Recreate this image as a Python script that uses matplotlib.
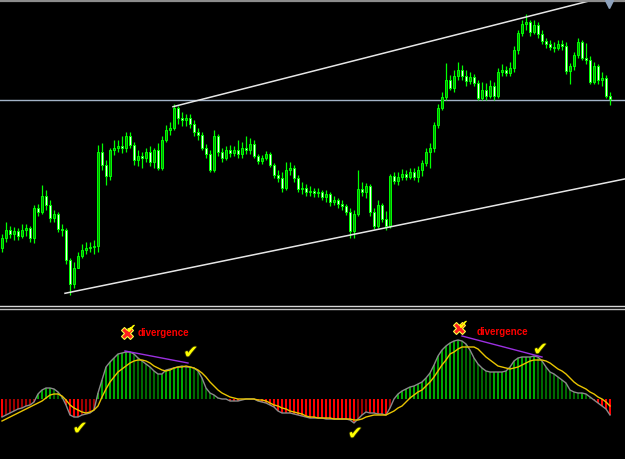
import matplotlib
matplotlib.use("Agg")
import matplotlib.pyplot as plt
from matplotlib.lines import Line2D
import matplotlib.patheffects as pe

# ---------------------------------------------------------------
# Price data (price points), one candle per bar
# ---------------------------------------------------------------
first_open = 52
closes = [62, 70, 66, 69, 64, 70, 72, 62, 92, 88,
          104, 95, 82, 86, 71, 70, 40, 16, 32, 44,
          50, 52, 53, 54, 148, 135, 124, 150, 152, 154,
          152, 164, 155, 140, 144, 142, 148, 138, 150, 132,
          160, 170, 172, 192, 182, 180, 182, 176, 168, 165,
          152, 146, 130, 164, 148, 142, 150, 147, 150, 146,
          152, 150, 156, 144, 139, 142, 146, 135, 125, 122,
          112, 130, 132, 122, 111, 112, 108, 109, 107, 108,
          103, 106, 98, 100, 96, 94, 88, 69, 86, 111,
          108, 114, 88, 74, 95, 81, 74, 124, 119, 123,
          126, 123, 128, 123, 130, 137, 148, 152, 175, 192,
          203, 220, 212, 224, 230, 224, 219, 223, 217, 202,
          210, 204, 214, 204, 228, 230, 227, 232, 250, 267,
          276, 278, 268, 275, 266, 259, 256, 253, 252, 256,
          254, 229, 234, 245, 258, 242, 240, 218, 234, 220,
          222, 204, 201]
highs = [66, 78, 74, 73, 72, 76, 76, 74, 95, 96,
         115, 110, 100, 90, 88, 76, 72, 42, 38, 48,
         56, 58, 58, 60, 155, 157, 140, 152, 160, 160,
         164, 168, 168, 158, 150, 148, 152, 154, 152, 157,
         164, 175, 178, 196, 194, 188, 186, 186, 180, 172,
         168, 156, 150, 170, 166, 152, 154, 155, 154, 160,
         158, 164, 162, 160, 146, 145, 149, 148, 137, 130,
         128, 138, 138, 135, 125, 118, 116, 114, 112, 112,
         110, 110, 108, 104, 102, 100, 96, 92, 90, 130,
         118, 117, 116, 92, 100, 97, 89, 126, 128, 128,
         131, 130, 132, 132, 134, 140, 152, 157, 178, 196,
         208, 237, 225, 230, 238, 235, 230, 228, 226, 220,
         218, 217, 220, 218, 232, 236, 234, 238, 254, 270,
         280, 286, 280, 280, 278, 270, 262, 260, 258, 260,
         260, 258, 237, 248, 262, 260, 257, 244, 238, 236,
         228, 225, 208]
lows = [48, 58, 62, 60, 60, 62, 64, 58, 57, 84,
        86, 90, 78, 78, 68, 64, 36, 5, 12, 32,
        42, 46, 48, 46, 48, 130, 115, 120, 145, 148,
        147, 148, 152, 135, 134, 132, 138, 134, 132, 130,
        130, 158, 165, 170, 176, 174, 174, 172, 164, 160,
        150, 142, 128, 128, 144, 138, 140, 143, 144, 142,
        142, 146, 146, 142, 136, 136, 140, 133, 122, 118,
        108, 110, 125, 118, 108, 106, 104, 104, 103, 103,
        100, 98, 94, 95, 92, 90, 85, 62, 62, 84,
        104, 102, 84, 71, 72, 78, 70, 72, 116, 115,
        120, 120, 121, 120, 118, 124, 134, 132, 148, 172,
        190, 200, 210, 208, 220, 220, 214, 216, 214, 200,
        200, 200, 202, 200, 202, 224, 224, 224, 228, 246,
        264, 270, 264, 266, 262, 256, 252, 250, 248, 250,
        250, 226, 216, 230, 242, 240, 236, 216, 216, 216,
        214, 202, 195]
opens = [first_open] + closes[:-1]

# indicator: main line (histogram) and signal line
macd = [-18, -16, -14, -12, -10, -9, -7, -6, -3, 5,
        9, 11, 11, 10, 7, 2, -6, -16, -18, -18,
        -16, -15, -14, -11, 6, 19, 32, 37, 41, 45,
        46, 47, 47, 45, 41, 38, 35, 32, 28, 25,
        25, 29, 30, 31, 32, 33, 32, 32, 31, 28,
        21, 11, 6, 4, 1, 0, 0, -2, -2, -2,
        -1, 0, 0, 0, -2, -3, -4, -6, -8, -12,
        -14, -14, -14, -15, -16, -17, -18, -19, -19, -19,
        -19, -20, -20, -20, -20, -20, -20, -21, -24, -20,
        -16, -13, -14, -14, -15, -15, -16, -9, 0, 5,
        8, 10, 12, 13, 15, 17, 21, 26, 34, 43,
        49, 53, 56, 58, 59, 58, 55, 49, 41, 35,
        31, 28, 27, 27, 27, 27, 28, 32, 38, 41,
        42, 42, 42, 43, 42, 38, 32, 27, 25, 22,
        19, 16, 9, 7, 6, 6, 5, 2, -1, -4,
        -7, -10, -16]
signal = [-22, -20, -18, -16, -14, -12, -10, -8, -6, -4,
          -2, 1, 4, 5, 5, 3, -1, -6, -9, -11,
          -13, -14, -13, -11, -7, 2, 10, 17, 22, 27,
          30, 33, 36, 38, 39, 39, 38, 36, 33, 31,
          29, 28, 29, 31, 32, 32, 33, 32, 31, 29,
          26, 22, 17, 13, 9, 6, 4, 2, 1, 0,
          0, 0, 0, 0, -1, -1, -2, -4, -6, -7,
          -9, -10, -12, -13, -14, -15, -17, -18, -18, -19,
          -19, -19, -19, -20, -20, -20, -20, -20, -21, -21,
          -20, -18, -17, -16, -16, -16, -16, -14, -12, -9,
          -7, -3, 1, 4, 7, 9, 13, 17, 22, 28,
          34, 39, 45, 47, 50, 52, 52, 52, 52, 50,
          46, 42, 39, 36, 33, 32, 31, 30, 31, 32,
          34, 36, 38, 39, 39, 39, 38, 36, 33, 30,
          28, 25, 21, 17, 14, 12, 10, 7, 5, 2,
          0, -3, -7]

# drawn objects: horizontal level and channel anchors (bar index, price)
level = 200
upper_anchor = [(42.75, 193.3), (144.5, 296.7)]
lower_anchor = [(15.75, 6.7), (92.0, 69.0)]

# annotations on the indicator
div_lines = [[(30.75, 48), (46.5, 36)], [(115.0, 63), (135.0, 42)]]
div_text_pos = [(33.8, 66), (118.6, 67)]
cross_pos = [(31.2, 66), (114.3, 71)]
check_pos = [(19.5, -30), (47.2, 46), (88.3, -35), (134.6, 49)]

# ---------------------------------------------------------------
fig = plt.figure(figsize=(6.25, 4.59), dpi=100, facecolor="black")
ax = fig.add_axes([0, 154 / 459, 1, 305 / 459])
ax2 = fig.add_axes([0, 0, 1, 150 / 459])
for a in (ax, ax2):
    a.set_axis_off()
    a.set_xlim(-0.5, 155.75)
ax.set_ylim(-5, 300)
ax2.set_ylim(-60, 90)

x = list(range(len(closes)))

# candles
ax.vlines(x, lows, highs, color="#00ff00", lw=0.9, zorder=2)
bottoms = [min(o, c) for o, c in zip(opens, closes)]
heights = [max(abs(c - o), 0.8) for o, c in zip(opens, closes)]
faces = ["#00a000" if c > o else "#f0fff0" for o, c in zip(opens, closes)]
ax.bar(x, heights, bottom=bottoms, width=0.66, color=faces,
       edgecolor="#00ff00", lw=0.7, zorder=3)

# level line and channel
ax.axhline(level, color="#a3b3c8", lw=1, zorder=1)
for (x0, y0), (x1, y1) in (upper_anchor, lower_anchor):
    slope = (y1 - y0) / (x1 - x0)
    x_end = 160
    ax.plot([x0, x_end], [y0, y0 + slope * (x_end - x0)],
            color="#e6e6e6", lw=1.1, zorder=4)

# indicator histogram
bar_colors = []
for i, v in enumerate(macd):
    prev = macd[i - 1] if i > 0 else v
    if v >= 0:
        bar_colors.append("#00a800" if v >= prev else "#006a00")
    else:
        bar_colors.append("#ff0000" if v <= prev else "#a00000")
ax2.bar(x, macd, width=0.72, color=bar_colors, lw=0, zorder=2)
ax2.plot(x, macd, color="#8a8a8a", lw=1, zorder=3)
ax2.plot(x, signal, color="#e8c400", lw=1, zorder=4)

for (x0, y0), (x1, y1) in div_lines:
    ax2.plot([x0, x1], [y0, y1], color="#9b30e0", lw=1, zorder=5)

for tx, ty in div_text_pos:
    ax2.text(tx, ty, "divergence", color="#ff0000", fontsize=7,
             fontweight="bold", family="Liberation Sans",
             ha="left", va="center", zorder=6)

# red cross with a small tick over it
for cx, cy in cross_pos:
    ax2.plot(cx, cy, marker="X", markersize=9, color="#ff2020",
             markeredgecolor="#ffff40", markeredgewidth=0.8, lw=0, zorder=6)
    ax2.text(cx + 1.0, cy + 3, "\u2714", color="#ffff00", fontsize=9,
             ha="center", va="center", family="DejaVu Sans", zorder=7)

for cx, cy in check_pos:
    ax2.text(cx, cy, "\u2714", color="#ffff00", fontsize=13,
             ha="center", va="center", family="DejaVu Sans", zorder=6,
             path_effects=[pe.withStroke(linewidth=1.2, foreground="#303000")])

# window frame details
fig.add_artist(Line2D([0, 1], [1 - 1.2 / 459] * 2, color="#8c8c8c", lw=1.6))
fig.add_artist(Line2D([0, 1], [1 - 306 / 459] * 2, color="#d8d8d8", lw=1))
fig.add_artist(Line2D([0, 1], [1 - 308.5 / 459] * 2, color="#bfbfbf", lw=1))
fig.add_artist(Line2D([609 / 625], [1 - 4 / 459], marker="v", markersize=6,
                      color="#8ea2bc", lw=0))

fig.savefig("out.png", dpi=100, facecolor="black")
